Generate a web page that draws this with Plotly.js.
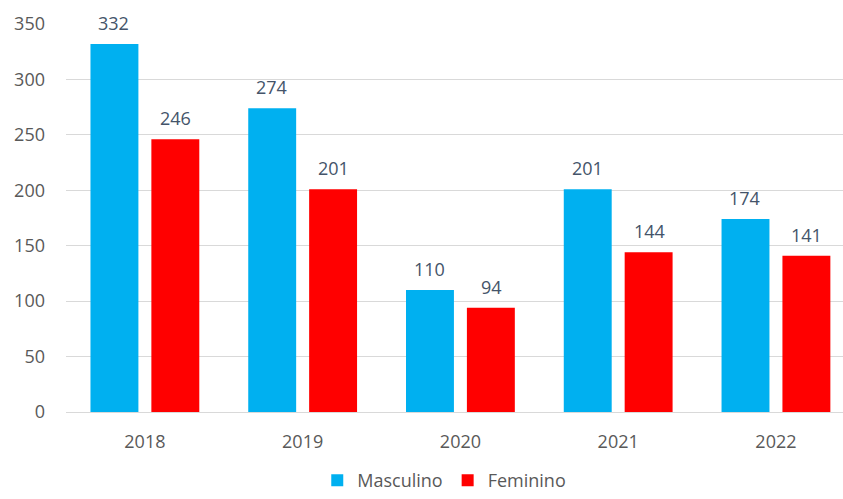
<!DOCTYPE html>
<html>
<head>
<meta charset="utf-8">
<script src="https://cdn.plot.ly/plotly-3.0.1.min.js"></script>
<style>
  html, body { margin: 0; padding: 0; background: #fff; }
  #chart { width: 843px; height: 499px; }
</style>
</head>
<body>
<div id="chart"></div>
<script>
// Data
const years = ['2018', '2019', '2020', '2021', '2022'];
const masculino = [332, 274, 110, 201, 174];
const feminino = [246, 201, 94, 144, 141];
const yTicks = [0, 50, 100, 150, 200, 250, 300, 350];

// bars
var traces = [
    {
        x: years,
        y: masculino,
        type: 'bar',
        name: 'Masculino',
        marker: { color: '#00B0F0' },
        hoverinfo: 'x+y'
    },
    {
        x: years,
        y: feminino,
        type: 'bar',
        name: 'Feminino',
        marker: { color: '#FF0000' },
        hoverinfo: 'x+y'
    }
];

// value labels above each bar, shifted onto its bar of the group
var annotations = [];
for (let i = 0; i < years.length; i++) {
    annotations.push({
        xref: 'x', yref: 'y',
        x: i, y: masculino[i], text: String(masculino[i]),
        showarrow: false, xanchor: 'center', yanchor: 'bottom', xshift: -31, yshift: 7,
        font: { family: 'Open Sans, sans-serif', size: 18, color: '#44546A' }
    });
    annotations.push({
        xref: 'x', yref: 'y',
        x: i, y: feminino[i], text: String(feminino[i]),
        showarrow: false, xanchor: 'center', yanchor: 'bottom', xshift: 31, yshift: 7,
        font: { family: 'Open Sans, sans-serif', size: 18, color: '#44546A' }
    });
}

var layout = {
    width: 843,
    height: 499,
    margin: { l: 66, r: 0, t: 24, b: 87 },
    paper_bgcolor: '#ffffff',
    plot_bgcolor: '#ffffff',
    barmode: 'group',
    bargap: 0.228,
    bargroupgap: 0.213,
    font: { family: 'Open Sans, sans-serif', color: '#595959', size: 18 },
    xaxis: {
        type: 'category',
        range: [-0.5, 4.425],
        showgrid: false,
        showline: true,
        linecolor: '#D9D9D9',
        linewidth: 1,
        ticks: '',
        ticklabelstandoff: 13,
        tickfont: { size: 18, color: '#595959' }
    },
    yaxis: {
        range: [0, 350],
        tickvals: yTicks,
        showgrid: true,
        gridcolor: '#D9D9D9',
        gridwidth: 1,
        zeroline: false,
        showline: false,
        ticks: '',
        ticklabelstandoff: 20,
        tickfont: { size: 18, color: '#595959' }
    },
    legend: {
        orientation: 'h',
        xref: 'container',
        yref: 'container',
        x: 0.527,
        xanchor: 'center',
        y: -0.015,
        yanchor: 'bottom',
        font: { size: 18, color: '#595959' }
    },
    annotations: annotations,
    showlegend: true
};

Plotly.newPlot('chart', traces, layout, { displayModeBar: false });
</script>
</body>
</html>
